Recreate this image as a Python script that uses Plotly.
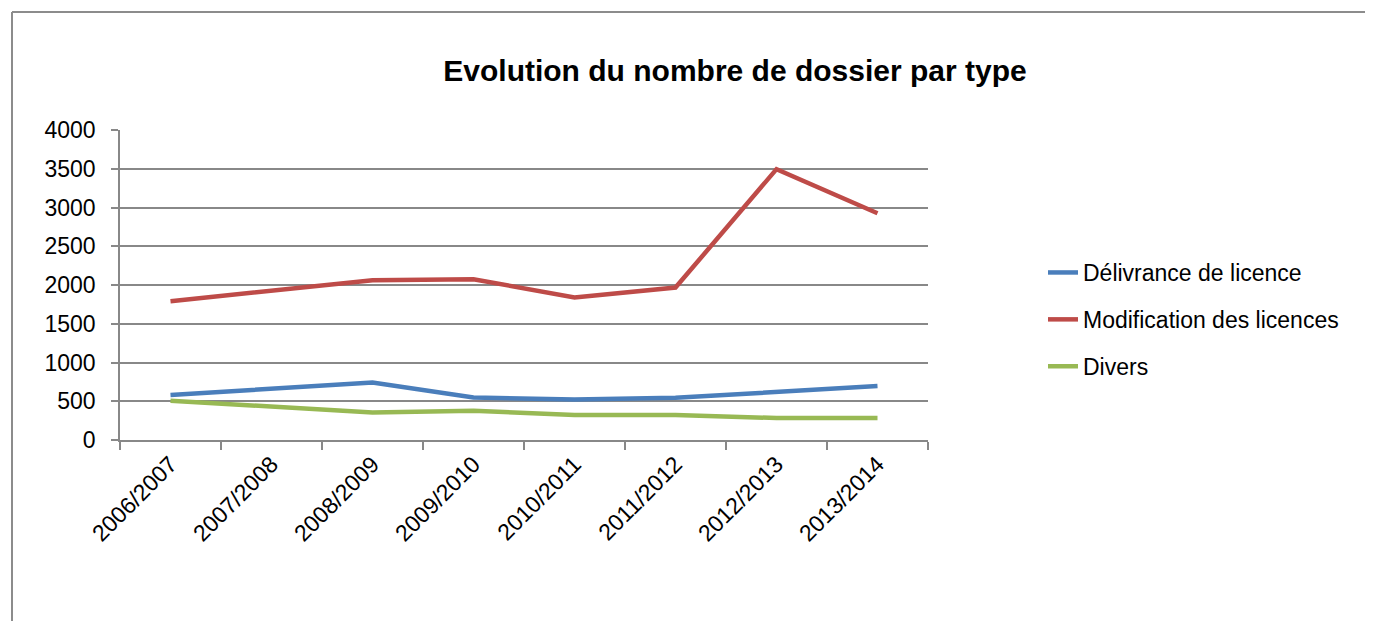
import plotly.graph_objects as go

categories = ["2006/2007", "2007/2008", "2008/2009", "2009/2010",
              "2010/2011", "2011/2012", "2012/2013", "2013/2014"]
delivrance = [580, 661, 742, 549, 523, 545, 626, 696]
modification = [1790, 1925, 2062, 2075, 1838, 1967, 3495, 2925]
divers = [506, 431, 356, 378, 322, 322, 284, 284]

series_names = ["Délivrance de licence", "Modification des licences", "Divers"]
series_colors = ["#4A7EBB", "#BE4B48", "#98B954"]
y_ticks = [0, 500, 1000, 1500, 2000, 2500, 3000, 3500, 4000]

FONT = "Liberation Sans"
W, H = 1365, 613
L, T, PW, PH = 112, 122, 808, 310

fig = go.Figure()
for name, vals, col in zip(series_names, [delivrance, modification, divers], series_colors):
    fig.add_trace(go.Scatter(
        x=categories, y=vals, mode="lines", name=name, legendgroup=name,
        line=dict(color=col, width=4.5),
    ))

fig.update_layout(
    width=W, height=H,
    paper_bgcolor="white", plot_bgcolor="white",
    margin=dict(l=L, r=W - L - PW, t=T, b=H - T - PH, autoexpand=False),
    font=dict(family=FONT, size=23, color="black"),
    title=dict(text="<b>Evolution du nombre de dossier par type</b>",
               x=727 / W, xanchor="center", xref="container",
               y=1 - 62 / H, yanchor="middle", yref="container",
               font=dict(family=FONT, size=30, color="black")),
    showlegend=True,
    legend=dict(x=(1035 - L) / PW, y=(T + PH - 243) / PH, xanchor="left", yanchor="top",
                font=dict(family=FONT, size=23, color="black"),
                tracegroupgap=14, bgcolor="rgba(0,0,0,0)"),
    xaxis=dict(type="category", tickson="boundaries", ticks="outside",
               range=[-0.5, 7.5], automargin=False,
               ticklen=8, tickcolor="#888", tickwidth=1.5,
               showline=True, linecolor="#888", linewidth=1.5,
               showgrid=False, tickangle=-45,
               tickfont=dict(family=FONT, size=23, color="black")),
    yaxis=dict(range=[0, 4000], tickvals=y_ticks, ticks="outside",
               automargin=False,
               ticklen=7, tickcolor="#888", tickwidth=1.5,
               showline=True, linecolor="#888", linewidth=1.5,
               showgrid=True, gridcolor="#888", gridwidth=1.5,
               zeroline=False, ticklabelstandoff=11,
               tickfont=dict(family=FONT, size=23, color="black")),
)

bx = (4 - L) / PW
by = (T + PH - 4) / PH
fig.add_shape(type="line", xref="paper", yref="paper",
              x0=bx, x1=bx, y0=-1.0, y1=by,
              line=dict(color="#8c8c8c", width=2), layer="below")
fig.add_shape(type="line", xref="paper", yref="paper",
              x0=bx, x1=(W - L) / PW, y0=by, y1=by,
              line=dict(color="#8c8c8c", width=2), layer="below")

fig.write_html("out.html")
